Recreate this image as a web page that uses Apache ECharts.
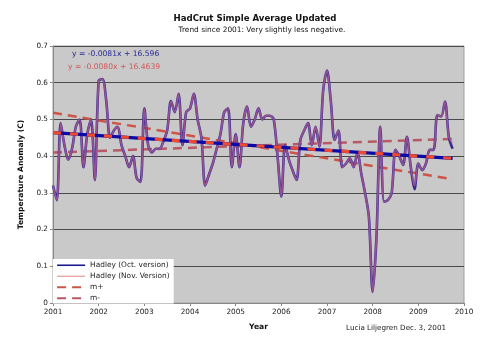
<!DOCTYPE html>
<html><head><meta charset="utf-8">
<script src="https://cdn.jsdelivr.net/npm/echarts@6/dist/echarts.min.js"></script>
<style>html,body{margin:0;padding:0;background:#fff}#c{width:500px;height:341px}</style>
</head><body><div id="c"></div>
<script>
// Monthly anomalies, Jan 2001 .. Oct 2009
const startYear = 2001;
const hadleyOct = [0.32,0.28,0.49,0.43,0.39,0.42,0.48,0.50,0.37,0.46,0.50,0.335,
 0.605,0.61,0.55,0.45,0.47,0.48,0.43,0.40,0.37,0.40,0.34,0.33,
 0.53,0.43,0.41,0.42,0.42,0.44,0.47,0.55,0.52,0.57,0.43,0.52,
 0.53,0.57,0.50,0.45,0.32,0.35,0.38,0.42,0.46,0.52,0.53,0.37,
 0.46,0.37,0.49,0.535,0.48,0.50,0.53,0.50,0.51,0.51,0.50,0.40,
 0.29,0.43,0.39,0.36,0.335,0.444,0.47,0.49,0.43,0.48,0.426,0.58,
 0.633,0.55,0.444,0.47,0.37,0.38,0.394,0.37,0.41,0.353,0.30,0.235,
 0.03,0.18,0.48,0.276,0.28,0.30,0.417,0.40,0.376,0.453,0.371,0.31,
 0.38,0.362,0.38,0.417,0.417,0.512,0.508,0.549,0.453,0.42];
const hadleyNov = [0.32,0.28,0.49,0.43,0.39,0.42,0.48,0.50,0.37,0.46,0.50,0.335,
 0.605,0.61,0.55,0.45,0.47,0.48,0.43,0.40,0.37,0.40,0.34,0.33,
 0.53,0.43,0.41,0.42,0.42,0.44,0.47,0.55,0.52,0.57,0.43,0.52,
 0.53,0.57,0.50,0.45,0.32,0.35,0.38,0.42,0.46,0.52,0.53,0.37,
 0.46,0.37,0.49,0.535,0.48,0.50,0.53,0.50,0.51,0.51,0.50,0.40,
 0.29,0.43,0.39,0.36,0.335,0.444,0.47,0.49,0.43,0.48,0.426,0.58,
 0.633,0.55,0.444,0.47,0.37,0.38,0.394,0.37,0.41,0.353,0.30,0.235,
 0.03,0.18,0.48,0.276,0.28,0.30,0.417,0.40,0.376,0.453,0.371,0.32,
 0.38,0.362,0.38,0.417,0.417,0.512,0.508,0.549,0.453,0.435];
// Trend / bound lines: [x, y] endpoints
const trendEnds = [[2001, 0.464], [2009.75, 0.394]];
const mPlusEnds = [[2001, 0.518], [2009.75, 0.337]];
const mMinusEnds = [[2001, 0.41], [2009.75, 0.447]];
const xTicks = [2001,2002,2003,2004,2005,2006,2007,2008,2009,2010];
const yTicks = [0,0.1,0.2,0.3,0.4,0.5,0.6,0.7];
const eqOct = 'y = -0.0081x + 16.596';
const eqNov = 'y = -0.0080x + 16.4639';

const toXY = arr => arr.map((v, i) => [startYear + i / 12, v]);
const F = 'DejaVu Sans, Verdana, sans-serif';
const chart = echarts.init(document.getElementById('c'), null, {renderer: 'canvas'});
chart.setOption({
  animation: false,
  backgroundColor: '#fff',
  title: [
    {text: 'HadCrut Simple Average Updated', left: 250, top: 9, textAlign: 'center',
     textStyle: {fontFamily: F, fontSize: 8.6, fontWeight: 'bold', color: '#111'}},
    {text: 'Trend since 2001: Very slightly less negative.', left: 257, top: 22, textAlign: 'center',
     textStyle: {fontFamily: F, fontSize: 7.4, fontWeight: 'normal', color: '#111'}}
  ],
  grid: {left: 53, top: 46, width: 411, height: 257, show: true, backgroundColor: '#c9c9c9', borderColor: '#a0a0a0', borderWidth: 1},
  xAxis: {type: 'value', min: xTicks[0], max: xTicks[xTicks.length-1], interval: 1,
    name: 'Year', nameLocation: 'middle', nameGap: 20,
    nameTextStyle: {fontFamily: F, fontSize: 7.6, fontWeight: 'bold', color: '#111'},
    axisLine: {lineStyle: {color: '#888'}}, axisTick: {show: true, length: 3, lineStyle: {color: '#888'}},
    axisLabel: {fontFamily: F, fontSize: 7.3, color: '#222', margin: 6, formatter: v => String(v)},
    splitLine: {show: false}},
  yAxis: {type: 'value', min: 0, max: yTicks[yTicks.length-1], interval: 0.1,
    name: 'Temperature Anomaly (C)', nameLocation: 'middle', nameGap: 20, nameRotate: 90,
    nameTextStyle: {fontFamily: F, fontSize: 7.6, fontWeight: 'bold', color: '#111'},
    axisLine: {show: true, lineStyle: {color: '#888'}}, axisTick: {show: true, length: 3, lineStyle: {color: '#888'}},
    axisLabel: {fontFamily: F, fontSize: 7.3, color: '#222', margin: 5, formatter: v => String(Math.round(v*10)/10)},
    splitLine: {show: true, lineStyle: {color: '#4a4a4a', width: 1}}},
  legend: {orient: 'vertical', left: 53, top: 259, backgroundColor: '#fff', padding: [2, 4, 1, 3],
    itemWidth: 28, itemHeight: 8, itemGap: 2.5, itemStyle: {opacity: 0},
    textStyle: {fontFamily: F, fontSize: 7.4, color: '#222', lineHeight: 8.5},
    data: [
      {name: 'Hadley (Oct. version)', lineStyle: {width: 1.6, color: '#1a1a8a'}},
      {name: 'Hadley (Nov. Version)', lineStyle: {width: 1.3, color: '#e8a0a0'}},
      {name: 'm+', lineStyle: {width: 2.2, color: '#cc5548'}},
      {name: 'm-', lineStyle: {width: 2.2, color: '#b85a64'}}
    ]},
  graphic: [
    {type: 'text', left: 72, top: 50, style: {text: eqOct, fill: '#2a2a9a', font: '7.6px ' + F}},
    {type: 'text', left: 68, top: 63, style: {text: eqNov, fill: '#d05a5a', font: '7.6px ' + F}},
    {type: 'text', left: 346, top: 325, style: {text: 'Lucia Liljegren Dec. 3, 2001', fill: '#222', font: '7.2px ' + F}}
  ],
  series: [
    {name: 'm+', type: 'line', data: mPlusEnds, showSymbol: false, symbol: 'none', z: 3,
     itemStyle: {color: '#cc5548'}, lineStyle: {color: '#cc5548', width: 2.5, type: [9, 6]}},
    {name: 'm-', type: 'line', data: mMinusEnds, showSymbol: false, symbol: 'none', z: 3,
     itemStyle: {color: '#b85a64'}, lineStyle: {color: '#b85a64', width: 2.5, type: [9, 6]}},
    {name: 'Hadley (Oct. version)', type: 'line', data: toXY(hadleyOct), showSymbol: false, symbol: 'none', smooth: 0.3, z: 4,
     itemStyle: {color: '#1a1a8a'}, lineStyle: {color: '#3a2a8e', width: 2.6}},
    {name: 'Hadley (Nov. Version)', type: 'line', data: toXY(hadleyNov), showSymbol: false, symbol: 'none', smooth: 0.3, z: 5,
     itemStyle: {color: '#e59a9a'}, lineStyle: {color: 'rgba(210,110,150,0.6)', width: 1.8}},
    {name: 'trendOct', type: 'line', data: trendEnds, showSymbol: false, symbol: 'none', z: 6,
     lineStyle: {color: '#0a0aa8', width: 3.2}},
    {name: 'trendNov', type: 'line', data: trendEnds, showSymbol: false, symbol: 'none', z: 7,
     lineStyle: {color: '#ee4a30', width: 3.2, type: [8, 9]}}
  ]
});
</script></body></html>
